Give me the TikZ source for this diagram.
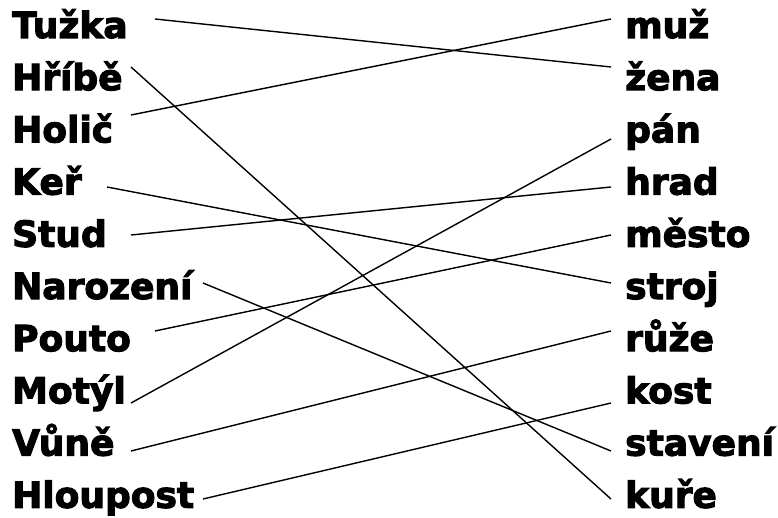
\documentclass[tikz,border=0pt]{standalone}
\usepackage{fontspec}
\setmainfont{DejaVu Sans}[BoldFeatures={FakeBold=3}]
\usepackage{tikz}

\tikzset{
  word/.style={anchor=base west, inner sep=0pt, font=\fontsize{36}{36}\selectfont\bfseries},
  pair/.style={line width=1.4pt}
}

\begin{document}
\begin{tikzpicture}[x=1pt,y=-1pt]
\useasboundingbox (0,0) rectangle (778,518);

% left column
\foreach \n/\w [count=\i from 0] in {tuzka/Tužka,hribe/Hříbě,holic/Holič,ker/Keř,stud/Stud,narozeni/Narození,pouto/Pouto,motyl/Motýl,vune/Vůně,hloupost/Hloupost}{
\node[word] (\n) at (12,38+52.2*\i) {\w};
}

% right column
\foreach \n/\w [count=\i from 0] in {muz/muž,zena/žena,pan/pán,hrad/hrad,mesto/město,stroj/stroj,ruze/růže,kost/kost,staveni/stavení,kure/kuře}{
\node[word] (\n) at (625,38+52.2*\i) {\w};
}

% line ends
\foreach \n/\x/\y in {tuzka/155/19,hribe/131/67,holic/131/115,ker/107/187,stud/131/235,narozeni/203/283,pouto/155/331,motyl/131/403,vune/131/451,hloupost/203/499}{
\coordinate (L\n) at (\x,\y);
}
\foreach \n/\y in {muz/19,zena/67,pan/139,hrad/187,mesto/235,stroj/283,ruze/331,kost/403,staveni/451,kure/499}{
\coordinate (R\n) at (611,\y);
}

\foreach \a/\b in {tuzka/zena,hribe/kure,holic/muz,ker/stroj,stud/hrad,narozeni/staveni,pouto/mesto,motyl/pan,vune/ruze,hloupost/kost}{
\draw[pair] (L\a)--(R\b);
}

\end{tikzpicture}
\end{document}
